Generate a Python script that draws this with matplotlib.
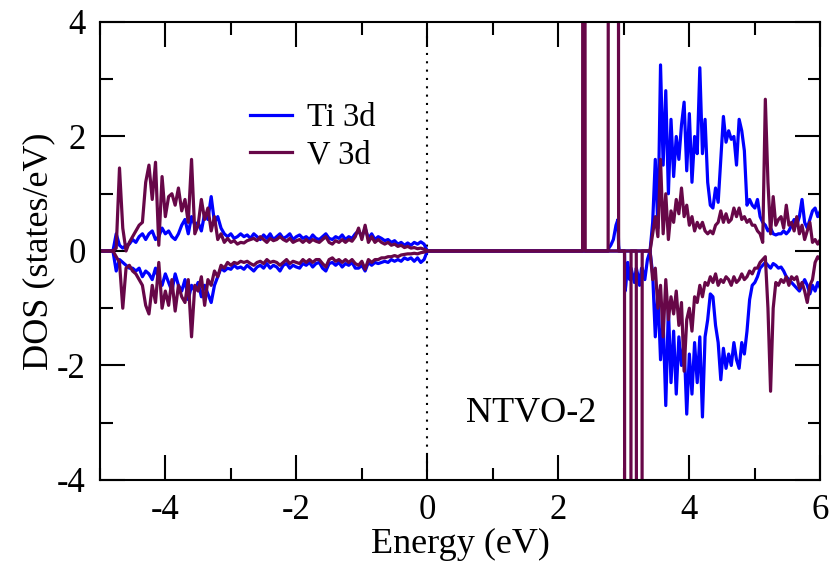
import numpy as np
import matplotlib
matplotlib.use("Agg")
import matplotlib.pyplot as plt
from matplotlib.ticker import MultipleLocator

plt.rcParams["font.family"] = ["Liberation Serif", "DejaVu Serif"]
plt.rcParams["axes.unicode_minus"] = False

# ----------------------------------------------------------------------------
# data: projected DOS, spin up (+) and spin down (-)
# ----------------------------------------------------------------------------
# valence band region, -5.00 ... 0.00 eV in 0.05 eV steps (101 points)
energy_left = np.round(np.arange(-5.0, 0.001, 0.05), 2)

ti_up_left = [
    0, 0, 0, 0, 0,
    0.3, 0.1, 0.05, 0.1, 0.12, 0.2, 0.15, 0.25, 0.3, 0.2,
    0.3, 0.35, 0.2, 0.25, 0.4, 0.3, 0.35, 0.25, 0.2, 0.3,
    0.45, 0.55, 0.3, 0.6, 0.45, 0.5, 0.35, 0.65, 0.55, 0.95,
    0.5, 0.6, 0.4, 0.3, 0.25, 0.3, 0.22, 0.25, 0.3, 0.25,
    0.28, 0.22, 0.3, 0.25, 0.2, 0.28, 0.22, 0.3, 0.2, 0.25,
    0.3, 0.22, 0.25, 0.3, 0.2, 0.25, 0.28, 0.22, 0.25, 0.2,
    0.28, 0.22, 0.2, 0.25, 0.3, 0.22, 0.2, 0.25, 0.22, 0.28,
    0.2, 0.25, 0.22, 0.3, 0.35, 0.25, 0.4, 0.22, 0.3, 0.2,
    0.25, 0.22, 0.18, 0.2, 0.15, 0.18, 0.12, 0.15, 0.1, 0.14,
    0.1, 0.15, 0.12, 0.16, 0.12, 0.0,
]
ti_dn_left = [
    0, 0, 0, 0, 0,
    -0.35, -0.15, -0.2, -0.25, -0.3, -0.3, -0.35, -0.3, -0.45, -0.35,
    -0.4, -0.5, -0.3, -0.5, -0.6, -0.4, -0.55, -0.7, -0.4, -0.6,
    -0.7, -0.5, -0.85, -0.6, -0.7, -0.55, -0.8, -0.6, -0.75, -0.9,
    -0.6, -0.45, -0.3, -0.35, -0.3, -0.32, -0.25, -0.3, -0.28, -0.32,
    -0.25, -0.3, -0.35, -0.28, -0.25, -0.3, -0.22, -0.3, -0.25, -0.28,
    -0.35, -0.25, -0.22, -0.3, -0.25, -0.28, -0.3, -0.22, -0.25, -0.2,
    -0.28, -0.22, -0.2, -0.3, -0.35, -0.22, -0.2, -0.25, -0.2, -0.28,
    -0.22, -0.25, -0.2, -0.3, -0.3, -0.25, -0.35, -0.2, -0.25, -0.2,
    -0.22, -0.2, -0.18, -0.2, -0.15, -0.18, -0.15, -0.18, -0.12, -0.15,
    -0.12, -0.18, -0.12, -0.2, -0.15, 0.0,
]
v_up_left = [
    0, 0, 0, 0, 0,
    0.05, 1.45, 0.4, 0.0, 0.15, 0.25, 0.35, 0.45, 0.5, 1.2,
    1.5, 0.9, 1.55, 0.1, 1.3, 0.6, 0.95, 1.0, 0.8, 1.1,
    0.7, 0.9, 0.5, 1.6, 0.3, 0.45, 0.9, 0.55, 0.75, 0.35,
    0.6, 0.2, 0.3, 0.15, 0.22, 0.15, 0.18, 0.12, 0.15, 0.14,
    0.18, 0.2, 0.22, 0.18, 0.25, 0.2, 0.15, 0.22, 0.18, 0.2,
    0.25, 0.2, 0.17, 0.22, 0.15, 0.18, 0.2, 0.15, 0.2, 0.15,
    0.2, 0.17, 0.15, 0.2, 0.25, 0.15, 0.12, 0.18, 0.15, 0.2,
    0.15, 0.2, 0.17, 0.25, 0.4, 0.2, 0.45, 0.15, 0.25, 0.15,
    0.2, 0.15, 0.12, 0.15, 0.1, 0.12, 0.08, 0.1, 0.06, 0.08,
    0.05, 0.06, 0.04, 0.05, 0.03, 0.0,
]
v_dn_left = [
    0, 0, 0, 0, 0,
    -0.1, -0.2, -1.0, -0.3, -0.25, -0.35, -0.4, -0.5, -0.6, -0.95,
    -1.1, -0.6, -0.9, -0.2, -1.0, -0.7, -0.95, -0.5, -1.05, -0.6,
    -0.8, -0.9, -0.5, -1.5, -0.6, -0.7, -0.45, -0.95, -0.5, -0.6,
    -0.35, -0.45, -0.25, -0.3, -0.2, -0.25, -0.2, -0.22, -0.18, -0.2,
    -0.18, -0.22, -0.25, -0.2, -0.18, -0.22, -0.15, -0.2, -0.18, -0.2,
    -0.25, -0.2, -0.15, -0.22, -0.18, -0.2, -0.22, -0.15, -0.2, -0.15,
    -0.2, -0.15, -0.15, -0.22, -0.28, -0.15, -0.12, -0.18, -0.15, -0.2,
    -0.15, -0.2, -0.15, -0.22, -0.25, -0.18, -0.32, -0.15, -0.2, -0.15,
    -0.15, -0.12, -0.12, -0.1, -0.1, -0.08, -0.1, -0.07, -0.06, -0.05,
    -0.05, -0.04, -0.05, -0.03, -0.02, 0.0,
]

# gap and narrow conduction-band states (values above 4 are off scale)
energy_mid = [0.05, 2.36, 2.37, 2.38, 2.395, 2.41, 2.75, 2.76, 2.77, 2.80,
              2.84, 2.88, 2.91, 2.92, 2.93, 3.01, 3.02, 3.03, 3.06, 3.09,
              3.10, 3.11, 3.12, 3.16, 3.19, 3.20, 3.21, 3.24, 3.27, 3.28,
              3.29, 3.32, 3.36]
ti_up_mid = [0, 0, 0, 0, 0, 0, 0, 0, 0.05, 0.1,
             0.2, 0.45, 0.55, 0.1, 0, 0, 0, 0, 0, 0,
             0, 0, 0, 0, 0, 0, 0, 0, 0, 0,
             0, 0, 0]
ti_dn_mid = [0, 0, 0, 0, 0, 0, 0, 0, 0, 0,
             0, 0, 0, 0, 0, 0, -0.7, -0.6, -0.2, -0.5,
             -0.4, -0.3, -0.35, -0.55, -0.3, -0.35, -0.4, -0.6, -0.3, -0.3,
             -0.35, -0.5, -0.15]
v_up_mid = [0, 0, 0, 25, 25, 0, 0, 0, 25, 25,
            25, 25, 25, 0, 0, 0, 0, 0, 0, 0,
            0, 0, 0, 0, 0, 0, 0, 0, 0, 0,
            0, 0, 0]
v_dn_mid = [0, 0, 0, 0, 0, 0, 0, 0, 0, 0,
            0, 0, 0, 0, 0, 0, -25, -25, -25, -25,
            -25, 0, 0, 0, 0, -25, -25, -25, -25, 0,
            0, 0, 0]

# conduction band region, 3.40 ... 6.00 eV in 0.04 eV steps (66 points)
energy_right = np.round(np.arange(3.40, 6.001, 0.04), 2)

ti_up_right = [
    0.0, 0.5, 1.6, 0.4, 3.25, 1.5, 2.8, 1.0, 2.3, 1.3,
    2.0, 1.6, 2.2, 2.6, 1.4, 2.4, 1.2, 2.0, 1.7, 3.2,
    1.7, 2.3, 1.2, 0.8, 0.75, 1.1, 0.85, 1.6, 2.35, 1.9,
    2.1, 1.95, 2.0, 1.5, 2.3, 2.1, 1.75, 0.8, 0.9, 0.8,
    0.75, 0.9, 0.6, 0.5, 0.45, 0.35, 0.4, 0.3, 0.28, 0.3,
    0.3, 0.35, 0.3, 0.35, 0.45, 0.55, 0.45, 0.6, 0.9, 0.5,
    0.4, 0.55, 0.7, 0.75, 0.6, 0.7,
]
ti_dn_right = [
    0.0, -0.4, -1.5, -0.7, -1.9, -1.2, -2.7, -1.0, -2.3, -1.4,
    -2.5, -1.5, -2.0, -1.6, -2.85, -1.8, -2.5, -1.6, -2.3, -1.5,
    -2.9, -1.5, -1.2, -0.75, -0.8, -1.3, -1.6, -2.25, -1.7, -2.05,
    -1.8, -2.0, -1.6, -1.9, -2.05, -1.6, -1.8, -1.4, -0.85, -0.6,
    -0.55, -0.45, -0.3, -0.25, -0.2, -0.25, -0.3, -0.22, -0.25, -0.3,
    -0.28, -0.35, -0.45, -0.5, -0.55, -0.6, -0.65, -0.7, -0.6, -0.5,
    -0.6, -0.75, -0.6, -0.7, -0.55, -0.65,
]
v_up_right = [
    0.0, 0.3, 0.6, 0.25, 1.6, 0.3, 1.0, 0.2, 0.7, 0.5,
    0.9, 0.65, 1.1, 0.6, 0.8, 0.45, 0.6, 0.35, 0.5, 0.4,
    0.5, 0.35, 0.3, 0.35, 0.3, 0.45, 0.5, 0.7, 0.5, 0.65,
    0.5, 0.55, 0.75, 0.6, 0.75, 0.55, 0.6, 0.5, 0.55, 0.45,
    0.45, 0.35, 0.3, 0.15, 2.65, 1.2, 0.3, 0.95, 0.45, 0.55,
    0.6, 0.4, 0.8, 0.45, 0.5, 0.35, 0.6, 0.3, 0.45, 0.2,
    0.35, 0.5, 0.15, 0.2, 0.12, 0.2,
]
v_dn_right = [
    0.0, -0.5, -0.3, -1.0, -0.6, -1.5, -0.5, -1.2, -0.8, -1.1,
    -0.7, -1.3, -0.9, -2.1, -1.2, -1.0, -1.4, -0.8, -0.9, -0.6,
    -0.8, -0.55, -0.6, -0.45, -0.55, -0.4, -0.6, -0.5, -0.55, -0.45,
    -0.5, -0.6, -0.45, -0.55, -0.5, -0.4, -0.5, -0.45, -0.35, -0.4,
    -0.3, -0.3, -0.2, -0.15, -0.1, -1.0, -2.45, -1.0, -0.55, -0.6,
    -0.5, -0.55, -0.45, -0.6, -0.45, -0.5, -0.45, -0.65, -0.55, -0.7,
    -0.9, -0.6, -0.5, -0.2, -0.1, -0.15,
]

energy = np.concatenate([energy_left, energy_mid, energy_right])
ti_up = np.concatenate([ti_up_left, ti_up_mid, ti_up_right])
ti_dn = np.concatenate([ti_dn_left, ti_dn_mid, ti_dn_right])
v_up = np.concatenate([v_up_left, v_up_mid, v_up_right])
v_dn = np.concatenate([v_dn_left, v_dn_mid, v_dn_right])

TI_COLOR = "#0000ff"
V_COLOR = "#670748"
LW = 2.3

# ----------------------------------------------------------------------------
# plot
# ----------------------------------------------------------------------------
fig = plt.figure(figsize=(8.32, 5.64), dpi=100)
ax = fig.add_axes([0.120, 0.149, 0.866, 0.812])

ln_ti, = ax.plot(energy, ti_up, color=TI_COLOR, lw=LW, label="Ti 3d")
ax.plot(energy, ti_dn, color=TI_COLOR, lw=LW)
ln_v, = ax.plot(energy, v_up, color=V_COLOR, lw=LW, label="V 3d")
ax.plot(energy, v_dn, color=V_COLOR, lw=LW)

ax.axvline(0, color="black", lw=1.5, ls=(0, (1, 3)), zorder=0)

ax.set_xlim(-5, 6)
ax.set_ylim(-4, 4)
ax.xaxis.set_major_locator(MultipleLocator(2))
ax.xaxis.set_minor_locator(MultipleLocator(1))
ax.yaxis.set_major_locator(MultipleLocator(2))
ax.yaxis.set_minor_locator(MultipleLocator(1))
ax.tick_params(which="both", direction="in", top=True, right=True,
               width=1.5, labelsize=25)
ax.tick_params(axis="x", pad=10)
ax.tick_params(axis="y", pad=10)
ax.tick_params(which="major", length=18)
ax.tick_params(which="minor", length=9)
for sp in ax.spines.values():
    sp.set_linewidth(1.5)

ax.set_xlabel("Energy (eV)", fontsize=26)
ax.xaxis.set_label_coords(0.5, -0.104)
ax.set_ylabel("DOS (states/eV)", fontsize=26)
ax.yaxis.set_label_coords(-0.062, 0.5)

ax.legend(handles=[ln_ti, ln_v], loc="upper left",
          bbox_to_anchor=(0.167, 0.888), frameon=False, fontsize=23.5,
          handlelength=1.3, handletextpad=0.45, labelspacing=0.22)

ax.text(0.508, 0.146, "NTVO-2", transform=ax.transAxes, fontsize=26,
        ha="left", va="center")

fig.savefig("out.png", dpi=100)
